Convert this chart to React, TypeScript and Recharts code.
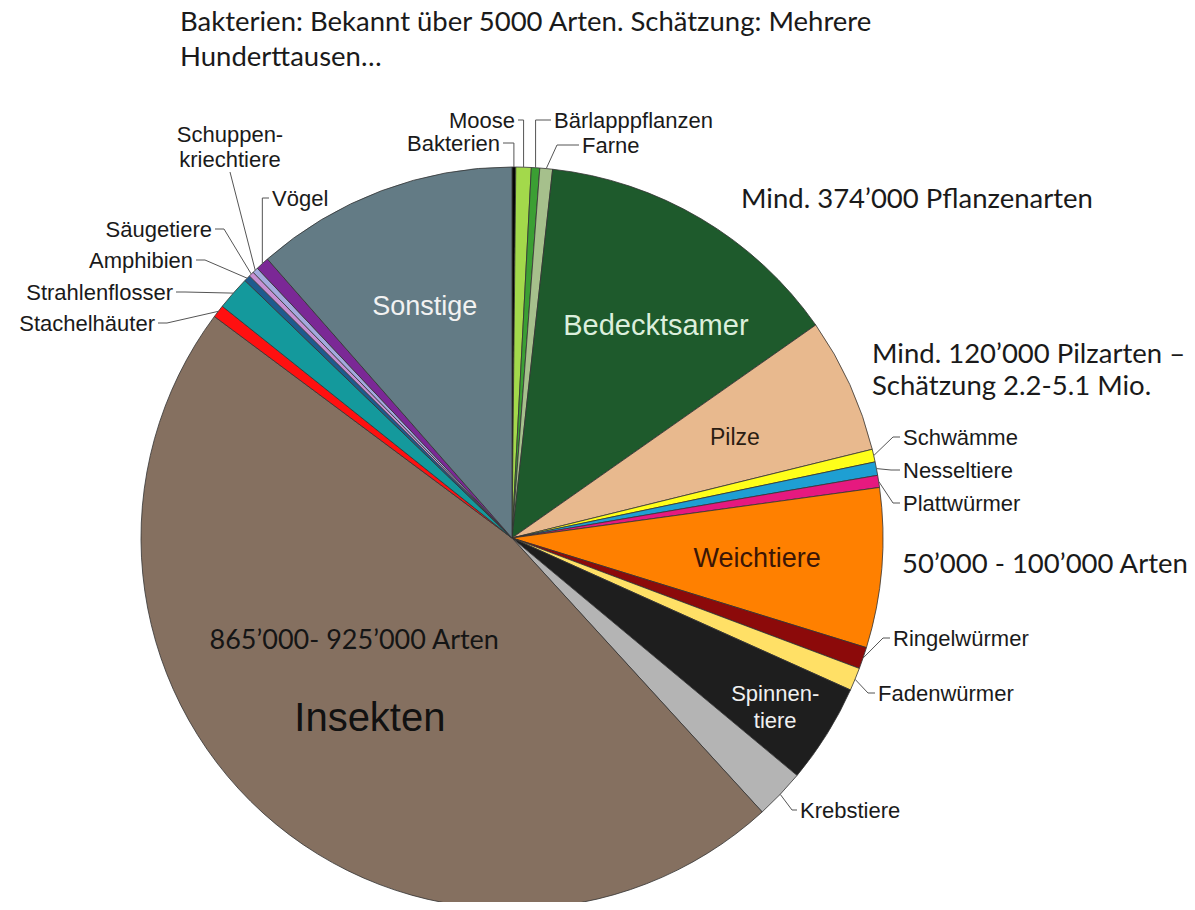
import { PieChart, Pie, Cell } from 'recharts';

// Artenzahlen in Tausend (aus dem Bild geschätzt)
const NAMES = [
  'Bakterien', 'Moose', 'Bärlapppflanzen', 'Farne', 'Bedecktsamer', 'Pilze',
  'Schwämme', 'Nesseltiere', 'Plattwürmer', 'Weichtiere', 'Ringelwürmer',
  'Fadenwürmer', 'Spinnentiere', 'Krebstiere', 'Insekten', 'Stachelhäuter',
  'Strahlenflosser', 'Amphibien', 'Säugetiere', 'Schuppenkriechtiere', 'Vögel', 'Sonstige',
];
const SPECIES = [
  3, 12.3, 6.7, 10.2, 249, 108.5,
  10.2, 10.8, 9.7, 128, 17.4,
  18.4, 79.9, 39.9, 865, 10.2,
  27.1, 5.1, 4.1, 4.6, 10.8, 211,
];
const COLORS = [
  '#050505', '#a3d94b', '#3b9f33', '#a6c08c', '#1e5a2c', '#e8b98e',
  '#ffff1a', '#1e9fd3', '#e6197f', '#ff8000', '#8c0a0a',
  '#ffe066', '#1e1e1e', '#b4b4b4', '#857060', '#ff1010',
  '#14999c', '#1d5b8e', '#c78fd3', '#a3aade', '#7b2896', '#637b85',
];

const NOTES = [
  { text: 'Bakterien: Bekannt über 5000 Arten. Schätzung: Mehrere', x: 180, y: 31 },
  { text: 'Hunderttausen…', x: 180, y: 66 },
  { text: 'Mind. 374’000 Pflanzenarten', x: 741, y: 208 },
  { text: 'Mind. 120’000 Pilzarten –', x: 872, y: 363 },
  { text: 'Schätzung 2.2-5.1 Mio.', x: 872, y: 395 },
  { text: '50’000 - 100’000 Arten', x: 902, y: 573 },
];

const data = NAMES.map((name, i) => ({ name, value: SPECIES[i] }));

const ARIAL = '"Liberation Sans", Arial, sans-serif';
const CALIBRI = 'Lato, "Open Sans", sans-serif';
const RAD = Math.PI / 180;

type Leader = {
  x: number;
  y: number;
  anchor: 'start' | 'end' | 'middle';
  kind: 'v' | 'h' | 'd';
  elbow?: number;
  lines?: string[];
};

const LEADERS: Record<string, Leader> = {
  Bakterien: { x: 500, y: 143, anchor: 'end', kind: 'v' },
  Moose: { x: 515, y: 120, anchor: 'end', kind: 'v' },
  'Bärlapppflanzen': { x: 554, y: 120, anchor: 'start', kind: 'v' },
  Farne: { x: 582, y: 145, anchor: 'start', kind: 'h', elbow: 25 },
  'Schwämme': { x: 903, y: 437, anchor: 'start', kind: 'h', elbow: 10 },
  Nesseltiere: { x: 903, y: 470, anchor: 'start', kind: 'h', elbow: 12 },
  'Plattwürmer': { x: 903, y: 503, anchor: 'start', kind: 'h', elbow: 10 },
  'Ringelwürmer': { x: 893, y: 638, anchor: 'start', kind: 'h', elbow: 10 },
  'Fadenwürmer': { x: 878, y: 693, anchor: 'start', kind: 'h', elbow: 10 },
  Krebstiere: { x: 800, y: 810, anchor: 'start', kind: 'h', elbow: 8 },
  'Stachelhäuter': { x: 155, y: 323, anchor: 'end', kind: 'h', elbow: 12 },
  Strahlenflosser: { x: 173, y: 292, anchor: 'end', kind: 'h', elbow: 12 },
  Amphibien: { x: 193, y: 260, anchor: 'end', kind: 'h', elbow: 12 },
  'Säugetiere': { x: 212, y: 229, anchor: 'end', kind: 'h', elbow: 12 },
  Schuppenkriechtiere: { x: 230, y: 134, anchor: 'middle', kind: 'd', lines: ['Schuppen-', 'kriechtiere'] },
  'Vögel': { x: 272, y: 198, anchor: 'start', kind: 'v' },
};

type Inner = { r: number; da: number; size: number; color: string; lines: string[]; lh?: number; font?: string };

const INNER: Record<string, Inner[]> = {
  Sonstige: [{ r: 0.668, da: 0, size: 27, color: '#f2f2f2', lines: ['Sonstige'] }],
  Bedecktsamer: [{ r: 0.693, da: 3.4, size: 29, color: '#dcefdc', lines: ['Bedecktsamer'] }],
  Pilze: [{ r: 0.66, da: 0, size: 23, color: '#2b1d12', lines: ['Pilze'] }],
  Weichtiere: [{ r: 0.663, da: 0, size: 27, color: '#3b1606', lines: ['Weichtiere'] }],
  Spinnentiere: [{ r: 0.843, da: 0.7, size: 22, color: '#f0f0f0', lines: ['Spinnen-', 'tiere'], lh: 27 }],
  Insekten: [
    { r: 0.617, da: -3.75, size: 40, color: '#111111', lines: ['Insekten'] },
    { r: 0.504, da: 15.4, size: 27, color: '#151515', lines: ['865’000- 925’000 Arten'], font: CALIBRI },
  ],
};

const renderLabel = (props: any) => {
  const cx = Number(props.cx);
  const cy = Number(props.cy);
  const outerRadius = Number(props.outerRadius);
  const midAngle = Number(props.midAngle);
  const name: string = props.name ?? props.payload?.name ?? NAMES[props.index];
  const pt = (r: number, ang: number) => [cx + r * Math.cos(-ang * RAD), cy + r * Math.sin(-ang * RAD)];

  const inner = INNER[name];
  if (inner) {
    return (
      <g>
        {inner.map((t, k) => {
          const [x, y] = pt(outerRadius * t.r, midAngle - t.da);
          const lh = t.lh ?? t.size * 1.2;
          const y0 = y - ((t.lines.length - 1) * lh) / 2;
          return (
            <text key={k} x={x} y={y0} textAnchor="middle" dominantBaseline="central"
              fill={t.color} fontSize={t.size} fontFamily={t.font ?? ARIAL}>
              {t.lines.map((ln, j) => (
                <tspan key={j} x={x} y={y0 + j * lh}>{ln}</tspan>
              ))}
            </text>
          );
        })}
      </g>
    );
  }

  const lead = LEADERS[name];
  if (!lead) return null;
  const [rx, ry] = pt(outerRadius, midAngle);
  let pts: number[][] = [];
  const side = lead.anchor === 'end' ? 1 : -1;
  if (lead.kind === 'v') {
    pts = [[rx, ry], [rx, lead.y], [lead.x + side * 3, lead.y]];
  } else if (lead.kind === 'h') {
    pts = [[rx, ry], [lead.x + side * (lead.elbow ?? 10), lead.y], [lead.x + side * 3, lead.y]];
  } else {
    pts = [[rx, ry], [lead.x, lead.y + 38]];
  }
  const lines = lead.lines ?? [name];
  return (
    <g>
      <polyline points={pts.map((p) => p.join(',')).join(' ')} fill="none" stroke="#555" strokeWidth={1} />
      <text x={lead.x} y={lead.y} textAnchor={lead.anchor} dominantBaseline="central"
        fill="#1a1a1a" fontSize={22} fontFamily={ARIAL}>
        {lines.map((ln, j) => (
          <tspan key={j} x={lead.x} y={lead.y + j * 25}>{ln}</tspan>
        ))}
      </text>
    </g>
  );
};

export default function App() {
  return (
    <div style={{ margin: -8, width: 1195, height: 910, position: 'relative', overflow: 'hidden', background: '#fff' }}>
      <PieChart width={1195} height={910} margin={{ top: 0, right: 0, bottom: 0, left: 0 }}>
        <Pie
          data={data}
          dataKey="value"
          nameKey="name"
          cx={512}
          cy={538}
          outerRadius={371}
          startAngle={90}
          endAngle={-270}
          stroke="#333"
          strokeWidth={0.8}
          label={renderLabel}
          labelLine={false}
          isAnimationActive={false}
        >
          {data.map((d, i) => (
            <Cell key={d.name} fill={COLORS[i]} />
          ))}
        </Pie>
      </PieChart>
      <svg width={1195} height={910} style={{ position: 'absolute', left: 0, top: 0, pointerEvents: 'none' }}>
        {NOTES.map((n) => (
          <text key={n.text} x={n.x} y={n.y} fill="#1a1a1a" fontSize={27.5} fontFamily={CALIBRI}>
            {n.text}
          </text>
        ))}
      </svg>
    </div>
  );
}
